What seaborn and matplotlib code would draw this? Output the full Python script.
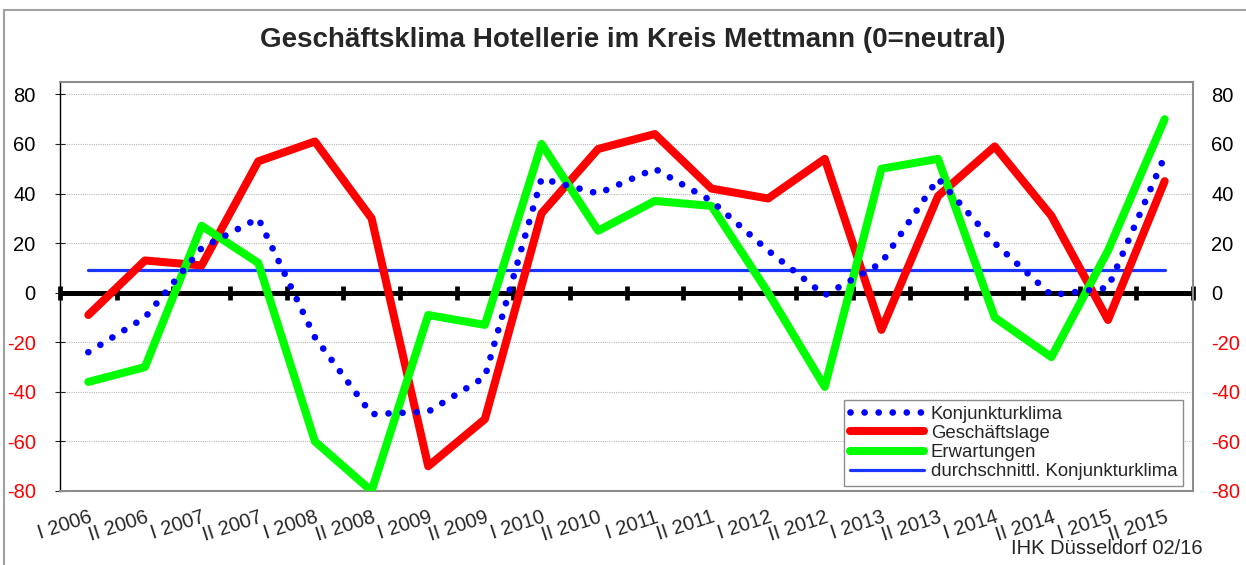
import numpy as np
import pandas as pd
import matplotlib
matplotlib.use('Agg')
import matplotlib.pyplot as plt
import seaborn as sns
from matplotlib.patches import Rectangle
from matplotlib.lines import Line2D

# Halbjahre
perioden = ['I 2006', 'II 2006', 'I 2007', 'II 2007', 'I 2008', 'II 2008',
            'I 2009', 'II 2009', 'I 2010', 'II 2010', 'I 2011', 'II 2011',
            'I 2012', 'II 2012', 'I 2013', 'II 2013', 'I 2014', 'II 2014',
            'I 2015', 'II 2015']

konjunkturklima = [-24, -10, 18, 30, -18, -49, -48, -34, 46, 40,
                   50, 37, 17, -1, 12, 46, 20, -1, 2, 55]
geschaeftslage = [-9, 13, 11, 53, 61, 30, -70, -51, 32, 58,
                  64, 42, 38, 54, -15, 39, 59, 31, -11, 45]
erwartungen = [-36, -30, 27, 12, -60, -80, -9, -13, 60, 25,
               37, 35, 0, -38, 50, 54, -10, -26, 17, 70]
durchschnitt = 9.3

y_ticks = [-80, -60, -40, -20, 0, 20, 40, 60, 80]

df = pd.DataFrame({
    'pos': np.arange(len(perioden)),
    'Konjunkturklima': konjunkturklima,
    'Geschäftslage': geschaeftslage,
    'Erwartungen': erwartungen,
    'durchschnittl. Konjunkturklima': [durchschnitt] * len(perioden),
})

sns.set_style('white')
plt.rcParams['font.family'] = ['Liberation Sans', 'DejaVu Sans']

fig = plt.figure(figsize=(12.46, 5.65), dpi=100)
ax = fig.add_axes([60 / 1246, 1 - 491 / 565, 1133 / 1246, 409 / 565])

# Gitter und Nulllinie
for t in y_ticks:
    if t != 0:
        ax.axhline(t, color='#b8b8b8', lw=0.8, ls=(0, (1, 1)), zorder=0)
ax.axhline(0, color='black', lw=3.6, zorder=2)
grenzen = np.arange(len(perioden) + 1) - 0.5
ax.plot(grenzen, np.zeros_like(grenzen), ls='none', marker='|', ms=10,
        mew=3.4, color='black', zorder=2, clip_on=False)

sns.lineplot(data=df, x='pos', y='durchschnittl. Konjunkturklima', ax=ax,
             color='#1a35ff', lw=2.3, zorder=3, label='_d')
sns.lineplot(data=df, x='pos', y='Geschäftslage', ax=ax,
             color='#ff0000', lw=5.8, zorder=4, label='Geschäftslage')
sns.lineplot(data=df, x='pos', y='Erwartungen', ax=ax,
             color='#00ff00', lw=5.8, zorder=5, label='Erwartungen')
sns.lineplot(data=df, x='pos', y='Konjunkturklima', ax=ax,
             color='#0000ff', lw=4.8, ls=(0, (0.01, 2.1)),
             dash_capstyle='round', zorder=6, label='Konjunkturklima')

ax.set_xlim(-0.5, len(perioden) - 0.5)
ax.set_ylim(-80, 85)
ax.set_xlabel('')
ax.set_ylabel('')

ax.set_xticks(np.arange(len(perioden)))
ax.set_xticklabels(perioden, rotation=18, ha='right', va='top',
                   rotation_mode='anchor', fontsize=14.5)
ax.tick_params(axis='x', length=0, pad=12)

ax.set_yticks(y_ticks)
ax.set_yticklabels([str(t) for t in y_ticks], fontsize=14.5)
ax.tick_params(axis='y', direction='inout', length=7, width=0.8, pad=14)
for lab, t in zip(ax.get_yticklabels(), y_ticks):
    lab.set_color('red' if t < 0 else 'black')

for side in ['top', 'right', 'bottom']:
    ax.spines[side].set_color('#8c8c8c')
    ax.spines[side].set_linewidth(1.5)
ax.spines['left'].set_color('black')
ax.spines['left'].set_linewidth(1.0)

ax2 = ax.twinx()
ax2.set_ylim(ax.get_ylim())
ax2.set_yticks(y_ticks)
ax2.set_yticklabels([str(t) for t in y_ticks], fontsize=14.5)
ax2.tick_params(axis='y', length=0, pad=13)
for lab, t in zip(ax2.get_yticklabels(), y_ticks):
    lab.set_color('red' if t < 0 else 'black')
for s in ax2.spines.values():
    s.set_visible(False)

# Legende
handles, labels = ax.get_legend_handles_labels()
order = ['Konjunkturklima', 'Geschäftslage', 'Erwartungen']
h = [handles[labels.index(n)] for n in order]
h.append(Line2D([], [], color='#1a35ff', lw=2.3))
leg = ax.legend(h, order + ['durchschnittl. Konjunkturklima'],
                loc='lower right', bbox_to_anchor=(1183 / 1246, 1 - 486 / 565),
                bbox_transform=fig.transFigure, borderaxespad=0,
                fontsize=13.4, handlelength=4.0, labelspacing=0.12,
                handletextpad=0.35, borderpad=0.3, fancybox=False,
                framealpha=1, edgecolor='#8c8c8c')
leg.get_frame().set_linewidth(1.0)
leg.set_zorder(10)

fig.text(0.508, 1 - 40 / 565, 'Geschäftsklima Hotellerie im Kreis Mettmann (0=neutral)',
         ha='center', va='center', fontsize=20, fontweight='bold')
fig.text(1203 / 1246, 1 - 549 / 565, 'IHK Düsseldorf 02/16',
         ha='right', va='center', fontsize=14.5)

fig.patches.append(Rectangle((4 / 1246, -0.05), 1.1, 1 - 10 / 565 + 0.05,
                             transform=fig.transFigure, fill=False,
                             edgecolor='#a0a0a0', lw=1.5, figure=fig))

fig.savefig('out.png', dpi=100)
